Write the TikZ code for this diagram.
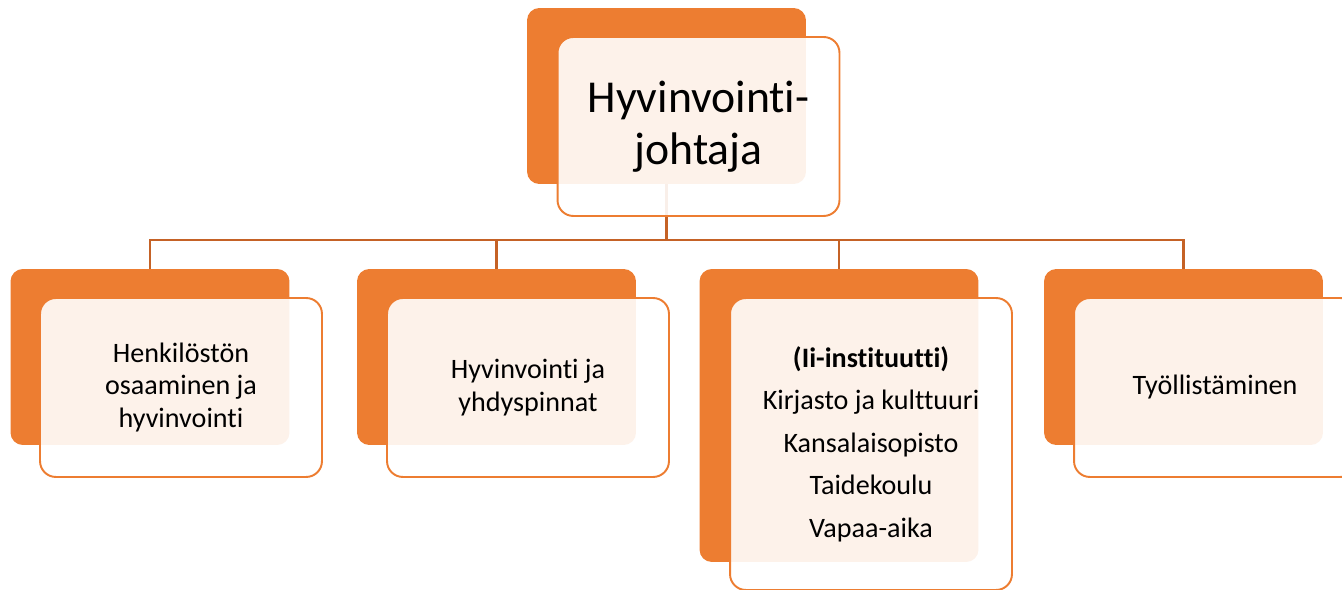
\documentclass[tikz,border=0pt]{standalone}
\usepackage{fontspec}
\setmainfont{Carlito}[Ligatures=NoCommon]
\usepackage{xcolor}
\usetikzlibrary{positioning,calc}
\definecolor{accent}{RGB}{237,125,49}
\definecolor{linkcol}{RGB}{197,98,38}

\begin{document}
\begin{tikzpicture}[x=0.02cm, y=-0.02cm,
  back/.style={rectangle, rounded corners=7pt, fill=accent, draw=none,
    minimum width=5.58cm, minimum height=3.52cm, inner sep=0pt},
  front/.style={rectangle, rounded corners=9pt, draw=accent, line width=1.1pt,
    fill=white, fill opacity=0.9, text opacity=1, align=center, text=black,
    minimum width=5.64cm, minimum height=3.58cm, inner sep=0pt,
    font=\fontsize{16}{18.6}\selectfont},
  conn/.style={draw=linkcol, line width=1.4pt},
]
\clip (0,0) rectangle (1342,590);

% back boxes (pixel coordinates, y down)
\node[back] (tb) at (666.5,96) {};
\node[back] (b1) at (150,357) {};
\node[back] (b2) at (496.5,357) {};
\node[back, minimum height=5.86cm] (b3) at (839,415.5) {};
\node[back] (b4) at (1183.5,357) {};

% connectors
\coordinate (bus) at (666.5,240);
\foreach \c in {b1,b2,b3,b4}{
  \draw[conn] (tb.south) -- (tb.south |- bus) -| (\c.north);
}

% front boxes
\node[front, font=\fontsize{26}{29.5}\selectfont] (tf) at (698.5,126.5)
  {Hyvinvointi-\\johtaja};
\node[front] (f1) at (181,387.5) {Henkilöstön\\osaaminen ja\\hyvinvointi};
\node[front] (f2) at (528,387.5) {Hyvinvointi ja\\yhdyspinnat};
\node[front, minimum height=5.84cm, font=\fontsize{16}{24.2}\selectfont] (f3) at (871,444)
  {\textbf{(Ii-instituutti)}\\Kirjasto ja kulttuuri\\Kansalaisopisto\\Taidekoulu\\Vapaa-aika};
\node[front] (f4) at (1215,387.5) {Työllistäminen};
\end{tikzpicture}
\end{document}
